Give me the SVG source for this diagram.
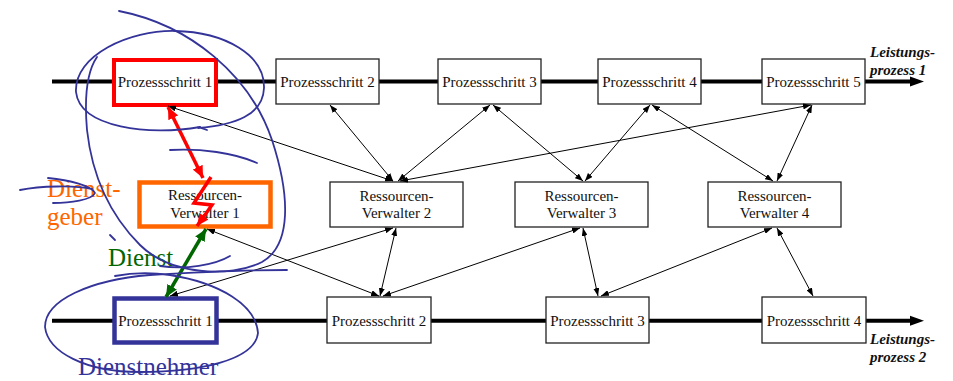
<svg xmlns="http://www.w3.org/2000/svg" width="953" height="381" viewBox="0 0 953 381">
<style>
.box{fill:#fff;stroke:#222;stroke-width:1.3}
.t{font-family:"Liberation Serif","Times New Roman",serif;font-size:15px;fill:#111;text-anchor:middle}
.lbl{font-family:"Liberation Serif","Times New Roman",serif;font-size:15px;font-weight:bold;font-style:italic;fill:#111}
.proc{stroke:#000;stroke-width:4;fill:none}
.con{stroke:#000;stroke-width:1;fill:none;marker-start:url(#ah);marker-end:url(#ah)}
.ann{fill:none;stroke:#333399;stroke-width:1.8;stroke-linecap:round}
.hand{font-family:"Liberation Serif","Times New Roman",serif;font-size:25px}
</style>
<defs>
<marker id="ah" markerUnits="userSpaceOnUse" markerWidth="8" markerHeight="6" refX="8" refY="3" orient="auto-start-reverse"><path d="M0,0 L8,3 L0,6 z" fill="#000"/></marker>
<marker id="rh" markerUnits="userSpaceOnUse" markerWidth="13" markerHeight="11" refX="12" refY="5.5" orient="auto-start-reverse"><path d="M0,0 L12,5.5 L0,11 z" fill="#ff0000"/></marker>
<marker id="gh" markerUnits="userSpaceOnUse" markerWidth="13" markerHeight="11" refX="12" refY="5.5" orient="auto-start-reverse"><path d="M0,0 L12,5.5 L0,11 z" fill="#006600"/></marker>
</defs>
<rect width="953" height="381" fill="#fff"/>

<g id="process1">
<line class="proc" x1="52" y1="81.5" x2="912" y2="81.5"/>
<polygon points="910,76.5 924,81.5 910,86.5" fill="#000"/>
<text class="lbl" x="870" y="57">Leistungs-</text>
<text class="lbl" x="870" y="75">prozess 1</text>
</g>
<g id="process2">
<line class="proc" x1="52" y1="320.7" x2="912" y2="320.7"/>
<polygon points="910,315.7 924,320.7 910,325.7" fill="#000"/>
<text class="lbl" x="870" y="344">Leistungs-</text>
<text class="lbl" x="870" y="362">prozess 2</text>
</g>

<g id="ps1-top">
<rect x="114" y="60" width="102" height="45" fill="#fff" stroke="#ff0000" stroke-width="4"/>
<text class="t" x="165" y="87">Prozessschritt 1</text>
</g>
<g id="ps2-top"><rect class="box" x="276" y="59" width="103" height="45"/><text class="t" x="327.5" y="87">Prozessschritt 2</text></g>
<g id="ps3-top"><rect class="box" x="438" y="59" width="103" height="45"/><text class="t" x="489.5" y="87">Prozessschritt 3</text></g>
<g id="ps4-top"><rect class="box" x="598" y="59" width="103" height="45"/><text class="t" x="649.5" y="87">Prozessschritt 4</text></g>
<g id="ps5-top"><rect class="box" x="762" y="59" width="103" height="45"/><text class="t" x="813.5" y="87">Prozessschritt 5</text></g>

<g id="rv1">
<rect x="139.5" y="182.5" width="131" height="44" fill="#fff" stroke="#ff6600" stroke-width="4.5"/>
<text class="t" x="205" y="200">Ressourcen-</text>
<text class="t" x="205" y="217.5">Verwalter 1</text>
</g>
<g id="rv2"><rect class="box" x="330" y="182" width="133" height="45"/><text class="t" x="396.5" y="200.5">Ressourcen-</text><text class="t" x="396.5" y="218">Verwalter 2</text></g>
<g id="rv3"><rect class="box" x="515" y="182" width="133" height="45"/><text class="t" x="581.5" y="200.5">Ressourcen-</text><text class="t" x="581.5" y="218">Verwalter 3</text></g>
<g id="rv4"><rect class="box" x="708" y="182" width="133" height="45"/><text class="t" x="774.5" y="200.5">Ressourcen-</text><text class="t" x="774.5" y="218">Verwalter 4</text></g>

<g id="ps1-bottom">
<rect x="114.5" y="298.5" width="102" height="44" fill="#fff" stroke="#333399" stroke-width="4.5"/>
<text class="t" x="165.5" y="326">Prozessschritt 1</text>
</g>
<g id="ps2-bottom"><rect class="box" x="327" y="297" width="104" height="46"/><text class="t" x="379" y="326">Prozessschritt 2</text></g>
<g id="ps3-bottom"><rect class="box" x="546" y="297" width="103" height="46"/><text class="t" x="597.5" y="326">Prozessschritt 3</text></g>
<g id="ps4-bottom"><rect class="box" x="762" y="297" width="104" height="46"/><text class="t" x="814" y="326">Prozessschritt 4</text></g>

<g id="connectors">
<line class="con" x1="168" y1="106" x2="393" y2="181"/>
<line class="con" x1="330" y1="105" x2="393" y2="181"/>
<line class="con" x1="490" y1="105" x2="398" y2="181"/>
<line class="con" x1="811" y1="105" x2="400" y2="181"/>
<line class="con" x1="493" y1="105" x2="583" y2="181"/>
<line class="con" x1="650" y1="105" x2="585" y2="181"/>
<line class="con" x1="652" y1="105" x2="773" y2="181"/>
<line class="con" x1="812" y1="105" x2="777" y2="181"/>
<line class="con" x1="207" y1="229" x2="379" y2="296"/>
<line class="con" x1="170" y1="296" x2="393" y2="228"/>
<line class="con" x1="396" y1="228" x2="380" y2="296"/>
<line class="con" x1="580" y1="228" x2="383" y2="296"/>
<line class="con" x1="583" y1="228" x2="598" y2="296"/>
<line class="con" x1="772" y1="228" x2="601" y2="296"/>
<line class="con" x1="777" y1="228" x2="813" y2="296"/>
<line x1="168" y1="107" x2="203" y2="178" stroke="#ff0000" stroke-width="3.5" marker-start="url(#rh)" marker-end="url(#rh)"/>
<polyline points="211,177 194,203 212,205 197,226" fill="none" stroke="#ff0000" stroke-width="3.5" stroke-linejoin="miter" marker-end="url(#rh)"/>
<line x1="206" y1="229" x2="166" y2="297" stroke="#006600" stroke-width="3.5" marker-start="url(#gh)" marker-end="url(#gh)"/>
</g>

<g id="annotations">
<text class="hand" x="47" y="197" fill="#ff6600">Dienst-</text>
<text class="hand" x="47" y="225" fill="#ff6600">geber</text>
<text class="hand" x="108" y="266" fill="#006600">Dienst</text>
<text class="hand" x="78" y="375" fill="#333399">Dienstnehmer</text>
<path class="ann" d="M200,127 C150,136 80,128 76,92 C74,55 130,30 175,31 C225,32 265,55 264,88 C263,115 235,125 198,128 M198,127 L207,130"/>
<path class="ann" d="M119,11 C190,25 250,75 272,140 C290,195 292,245 262,262 C230,278 170,275 140,245 C110,215 92,175 87,130 C84,95 88,70 97,57"/>
<path class="ann" d="M170,150 C200,148 235,153 257,163"/>
<path class="ann" d="M20,190 C40,186 75,185 92,189 M48,178 C70,180 92,186 95,193 C92,200 70,203 53,203"/>
<path class="ann" d="M110,235 L115,240"/>
<path class="ann" d="M160,266 C185,270 215,265 230,256"/>
<path class="ann" d="M287,270 C250,270 200,272 150,275 C90,280 45,300 45,327 C48,352 85,372 140,372 C200,372 255,360 258,333 C256,305 220,283 170,275 C150,272 130,273 115,276"/>
</g>
</svg>
